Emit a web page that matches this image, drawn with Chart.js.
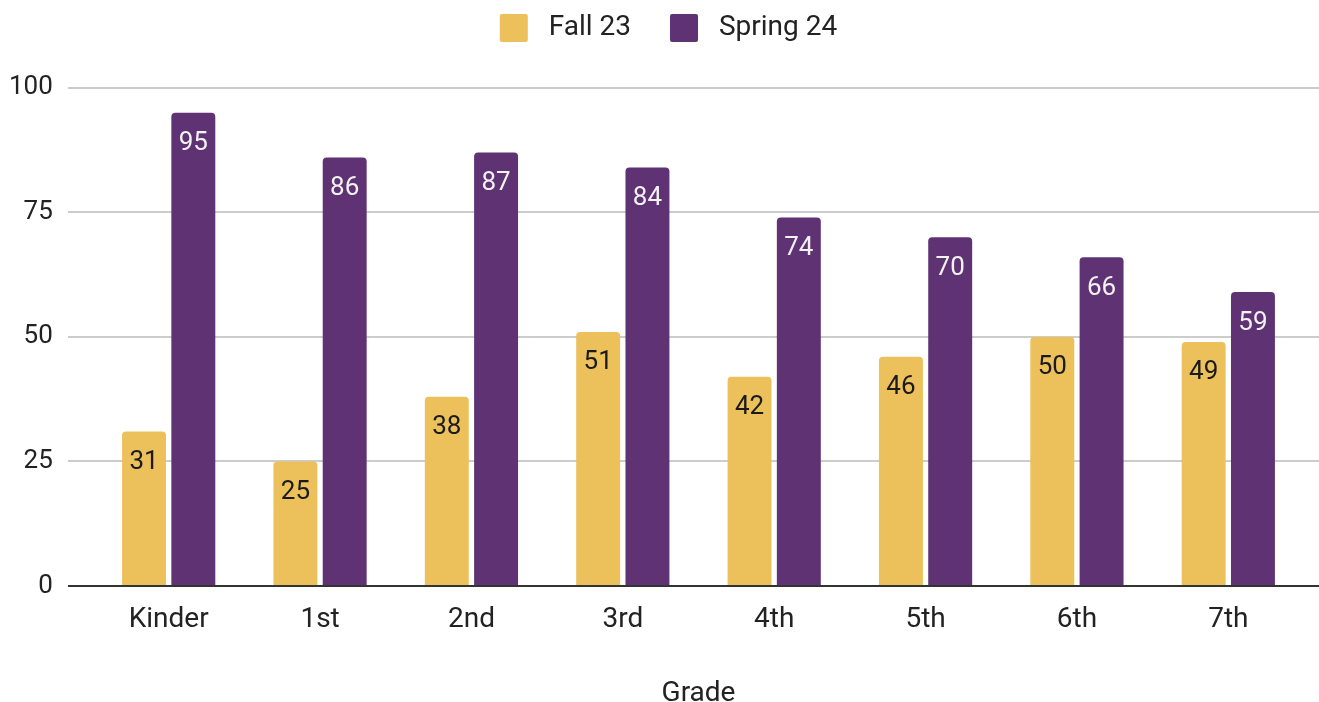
<!DOCTYPE html>
<html>
<head>
<meta charset="utf-8">
<script src="https://cdn.jsdelivr.net/npm/chart.js@4.4.1/dist/chart.umd.min.js"></script>
<style>
  html, body { margin: 0; padding: 0; background: #fff; overflow: hidden; }
  #wrap { position: absolute; left: 0; top: -25px; width: 1319px; height: 760px; }
</style>
</head>
<body>
<div id="wrap"><canvas id="chart"></canvas></div>
<script>
// values
const grades = ['Kinder', '1st', '2nd', '3rd', '4th', '5th', '6th', '7th'];
const fall23 = [31, 25, 38, 51, 42, 46, 50, 49];
const spring24 = [95, 86, 87, 84, 74, 70, 66, 59];
const yTicks = [0, 25, 50, 75, 100];

const FONT = 'Roboto';

// horizontal grid lines run a bit wider than the bars area, like the original
const gridLines = {
    id: 'gridLines',
    beforeDatasetsDraw(chart) {
        const ctx = chart.ctx;
        const y = chart.scales.y;
        ctx.save();
        ctx.lineWidth = 2;
        ctx.strokeStyle = '#cccccc';
        yTicks.forEach(v => {
            if (v === 0) return;
            const py = Math.round(y.getPixelForValue(v));
            ctx.beginPath();
            ctx.moveTo(chart.chartArea.left - 25, py);
            ctx.lineTo(chart.width, py);
            ctx.stroke();
        });
        ctx.restore();
    },
    afterDatasetsDraw(chart) {
        const ctx = chart.ctx;
        const py = Math.round(chart.scales.y.getPixelForValue(0));
        ctx.save();
        ctx.lineWidth = 2;
        ctx.strokeStyle = '#333333';
        ctx.beginPath();
        ctx.moveTo(chart.chartArea.left - 25, py);
        ctx.lineTo(chart.width, py);
        ctx.stroke();
        ctx.restore();
    }
};

// value labels inside the top of every bar
const barLabels = {
    id: 'barLabels',
    afterDatasetsDraw(chart) {
        const ctx = chart.ctx;
        ctx.save();
        ctx.font = '26px ' + FONT;
        ctx.textAlign = 'center';
        ctx.textBaseline = 'middle';
        chart.data.datasets.forEach((ds, i) => {
            const meta = chart.getDatasetMeta(i);
            ctx.fillStyle = ds.labelColor;
            meta.data.forEach((bar, j) => {
                ctx.fillText(String(ds.data[j]), bar.x, bar.y + 31);
            });
        });
        ctx.restore();
    }
};

const defaultLabels = Chart.defaults.plugins.legend.labels.generateLabels;

new Chart(document.getElementById('chart'), {
    type: 'bar',
    data: {
        labels: grades,
        datasets: [{
            label: 'Fall 23',
            data: fall23,
            backgroundColor: '#ecc05a',
            labelColor: '#1a1a1a',
            borderRadius: { topLeft: 4, topRight: 4 },
            borderSkipped: 'start'
        }, {
            label: 'Spring 24',
            data: spring24,
            backgroundColor: '#5f3373',
            labelColor: '#f2f2f2',
            borderRadius: { topLeft: 4, topRight: 4 },
            borderSkipped: 'start'
        }]
    },
    options: {
        responsive: true,
        maintainAspectRatio: false,
        animation: false,
        categoryPercentage: 0.651,
        barPercentage: 0.892,
        layout: { padding: { left: 33, right: 15, top: 0, bottom: 23.4 } },
        plugins: {
            tooltip: { enabled: false },
            legend: {
                position: 'top',
                labels: {
                    boxWidth: 28,
                    boxHeight: 28,
                    padding: 39,
                    useBorderRadius: true,
                    borderRadius: 2,
                    color: '#222',
                    font: { family: FONT, size: 28 },
                    generateLabels: chart => defaultLabels(chart).map(l => ({ ...l, text: ' ' + l.text }))
                }
            }
        },
        scales: {
            x: {
                grid: { display: false, drawTicks: false },
                border: { display: false },
                ticks: { color: '#222', padding: 17, font: { family: FONT, size: 28 } },
                title: {
                    display: true,
                    text: 'Grade',
                    color: '#222',
                    padding: { top: 0, bottom: 1 },
                    font: { family: FONT, size: 28 }
                },
                afterFit(scale) { scale.height = 125.6; }
            },
            y: {
                min: 0,
                max: 107.2,
                grid: { display: false, drawTicks: false },
                border: { display: false },
                ticks: {
                    stepSize: 25,
                    includeBounds: false,
                    // mirrored so the labels are not clipped to the narrow axis box
                    mirror: true,
                    crossAlign: 'far',
                    padding: -84,
                    color: '#222',
                    font: { family: FONT, size: 26 }
                },
                afterFit(scale) { scale.width = 60; }
            }
        }
    },
    plugins: [gridLines, barLabels]
});
</script>
</body>
</html>
